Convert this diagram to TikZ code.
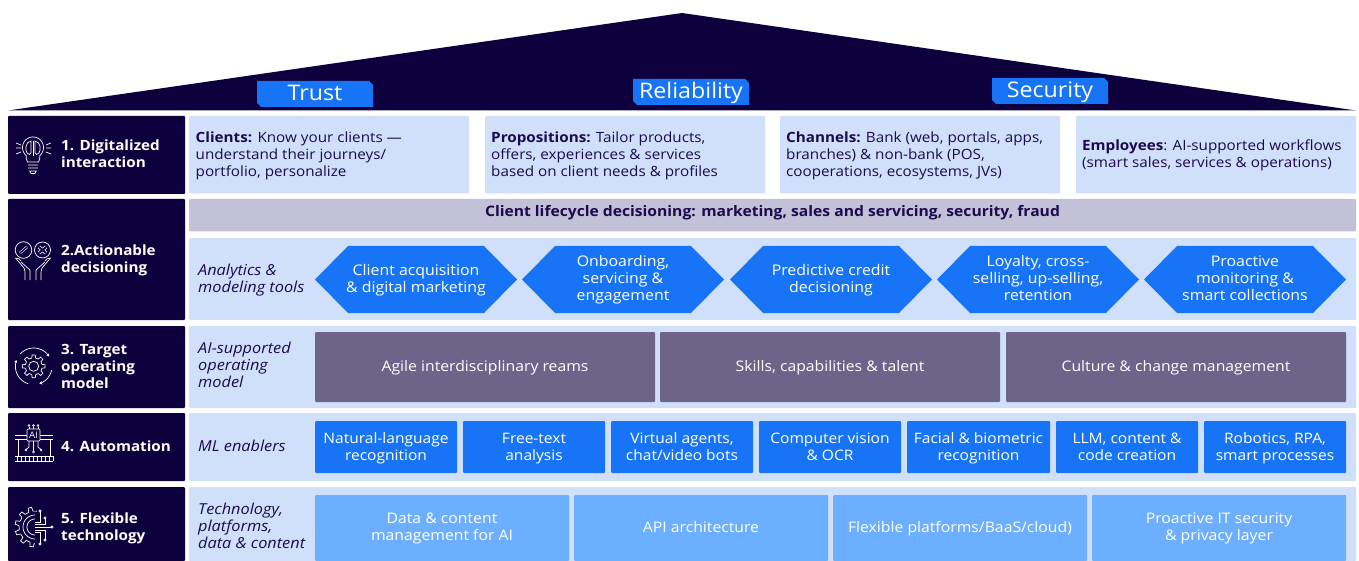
\documentclass[tikz,border=0pt]{standalone}
\usepackage{fontspec}
\setmainfont[FakeStretch=1.08]{Open Sans}
\usetikzlibrary{calc,arrows.meta}
\definecolor{navy}{HTML}{0E003D}
\definecolor{pale}{HTML}{D0E0FA}
\definecolor{greyb}{HTML}{C2C1D7}
\definecolor{purp}{HTML}{6E6389}
\definecolor{blu}{HTML}{1874F6}
\definecolor{lblu}{HTML}{6CAEFF}
\definecolor{ink}{HTML}{1B0A4F}
\newcommand{\tl}{\rule{0pt}{15pt}}
\newcommand{\tll}{\rule{0pt}{13.5pt}}
\tikzset{
 x=1pt,y=-1pt,
 lines/.style={execute at begin node={\rule{0pt}{14.9pt}},execute at end node={\rule[-5.1pt]{0pt}{5.1pt}}},
 box/.style={rectangle,inner sep=0pt,outer sep=0pt,rounded corners=1pt,align=center,lines,font=\fontsize{14.6}{17}\selectfont},
 head/.style={box,fill=navy},
 headtxt/.style={inner sep=0pt,anchor=west,align=left,lines,text=white,font=\fontsize{14.1}{17}\selectfont\bfseries},
 band/.style={box,fill=pale},
 bandtxt/.style={inner sep=0pt,anchor=west,align=left,lines,text=ink,font=\fontsize{14.1}{17}\selectfont},
 tool/.style={bandtxt,font=\fontsize{15.1}{17}\selectfont\itshape},
 agile/.style={box,fill=purp,text=white},
 enabler/.style={box,fill=blu,text=white,font=\fontsize{14.4}{17}\selectfont},
 tech/.style={box,fill=lblu,text=white},
 hextxt/.style={inner sep=0pt,align=center,lines,text=white,font=\fontsize{14.7}{17}\selectfont},
 tabtxt/.style={inner sep=0pt,text=white,text height=15pt,text depth=5pt,font=\fontsize{21.5}{24}\selectfont},
 greytxt/.style={inner sep=0pt,text=ink,font=\fontsize{14.5}{17}\selectfont\bfseries},
 ico/.style={draw=white,line width=.7pt,fill=none},
}
\newcommand{\cb}[7]{\node[#6,minimum width=#4pt-#2pt,minimum height=#5pt-#3pt] (#1) at ({(#2+#4)/2},{(#3+#5)/2}) {#7};}
\newcommand{\hexb}[3]{%
 \fill[blu] (#2,279.5) -- (#2+33,246) -- (#2+169,246) -- (#2+202,279.5) -- (#2+169,313) -- (#2+33,313) -- cycle;
 \node[hextxt] (#1) at (#2+101,279) {\tl #3};}
\newcommand{\tabb}[4]{%
 \fill[blu] (#2,#3) -- (#2+112,#3) -- (#2+116,#3+4) -- (#2+116,#3+26) -- (#2+4,#3+26) -- (#2,#3+22) -- cycle;
 \node[tabtxt] (#1) at (#2+58,#3+14.8) {#4};}
\begin{document}
\begin{tikzpicture}
\useasboundingbox (0,0) rectangle (1359,561);
\fill[navy] (8,110.5) -- (682,13) -- (1356,110.5) -- cycle;
\tabb{trust}{257}{81}{Trust}
\tabb{reliab}{633}{79}{Reliability}
\tabb{secur}{992}{78}{Security}
\cb{h1}{8}{116}{185}{194}{head}{}
\cb{h2}{8}{199}{185}{320}{head}{}
\cb{h3}{8}{326}{185}{408}{head}{}
\cb{h4}{8}{413}{185}{481}{head}{}
\cb{h5}{8}{487}{185}{561}{head}{}
\node[headtxt] (t1) at (61,154) {\tl 1. Digitalized\\interaction};
\node[headtxt] (t2) at (61,259) {\tl 2.Actionable\\decisioning};
\node[headtxt] (t3) at (61,367) {\tl 3. Target\\operating\\model};
\node[headtxt] (t4) at (61,446.5) {4. Automation};
\node[headtxt] (t5) at (61,527) {\tl 5. Flexible\\technology};
\cb{c1}{189}{116}{469}{193.5}{band}{}
\cb{c2}{485}{116}{765}{193.5}{band}{}
\cb{c3}{780}{116}{1060}{193.5}{band}{}
\cb{c4}{1076}{116}{1356}{193.5}{band}{}
\node[bandtxt] (ct1) at (195.5,155) {\tl\textbf{Clients:} Know your clients —\\understand their journeys/\\portfolio, personalize};
\node[bandtxt] (ct2) at (491,155) {\tl\textbf{Propositions:} Tailor products,\\offers, experiences \& services\\based on client needs \& profiles};
\node[bandtxt] (ct3) at (786,155) {\tl\textbf{Channels:} Bank (web, portals, apps,\\branches) \& non-bank (POS,\\cooperations, ecosystems, JVs)};
\node[bandtxt] (ct4) at (1082,154) {\tl\textbf{Employees}: AI-supported workflows\\(smart sales, services \& operations)};
\cb{grey}{189}{199}{1356}{231.5}{box,fill=greyb}{}
\node[greytxt] (gt) at (772.5,213) {Client lifecycle decisioning: marketing, sales and servicing, security, fraud};
\cb{r2}{189}{238}{1356}{320}{band}{}
\node[tool] (l2) at (198,279) {\tl Analytics \&\\modeling tools};
\hexb{x1}{315}{Client acquisition\\\& digital marketing}
\hexb{x2}{522}{Onboarding,\\servicing \&\\engagement}
\hexb{x3}{730}{Predictive credit\\decisioning}
\hexb{x4}{937}{Loyalty, cross-\\selling, up-selling,\\retention}
\hexb{x5}{1144}{Proactive\\monitoring \&\\smart collections}
\cb{r3}{189}{326}{1356}{408}{band}{}
\node[tool] (l3) at (198,366) {\tl AI-supported\\operating\\model};
\cb{a1}{315}{332}{655}{402}{agile}{Agile interdisciplinary reams}
\cb{a2}{660}{332}{1000}{402}{agile}{Skills, capabilities \& talent}
\cb{a3}{1006}{332}{1346}{402}{agile}{Culture \& change management}
\cb{r4}{189}{413}{1356}{481}{band}{}
\node[tool] (l4) at (198,446.5) {ML enablers};
\cb{e1}{315}{421}{457}{473}{enabler}{\tl Natural-language\\recognition}
\cb{e2}{463}{421}{605}{473}{enabler}{\tl Free-text\\analysis}
\cb{e3}{611}{421}{753}{473}{enabler}{\tl Virtual agents,\\chat/video bots}
\cb{e4}{759}{421}{901}{473}{enabler}{\tl Computer vision\\\& OCR}
\cb{e5}{907}{421}{1050}{473}{enabler}{\tl Facial \& biometric\\recognition}
\cb{e6}{1056}{421}{1198}{473}{enabler}{\tl LLM, content \&\\code creation}
\cb{e7}{1204}{421}{1346}{473}{enabler}{\tl Robotics, RPA,\\smart processes}
\cb{r5}{189}{487}{1356}{561}{band}{}
\node[tool] (l5) at (198,527) {\tl Technology,\\platforms,\\data \& content};
\cb{d1}{315}{495}{569}{561}{tech}{\tll Data \& content\\management for AI}
\cb{d2}{574}{495}{828}{561}{tech}{API architecture}
\cb{d3}{833}{495}{1087}{561}{tech}{Flexible platforms/BaaS/cloud)}
\cb{d4}{1092}{495}{1346}{561}{tech}{\tll Proactive IT security\\\& privacy layer}
% icon 1: bulb
\begin{scope}[ico]
\draw plot[domain=130:410,samples=40] ({33+10.5*cos(\x)},{147.5+10.5*sin(\x)}) .. controls (41,158) and (39,159) .. (38.5,162) -- (27.5,162) .. controls (27,159) and (25,158) .. (26.2,155.5);
\draw (28,165) -- (38,165) (28,168) -- (38,168) (29,171) -- (37,171) (30,171) -- (31,173.5) -- (35,173.5) -- (36,171);
\draw (33,141) -- (33,156);
\draw (31,141) .. controls (25,142) and (25,150) .. (27,153) .. controls (28,155) and (31,155) .. (31,153) -- cycle;
\draw (35,141) .. controls (41,142) and (41,150) .. (39,153) .. controls (38,155) and (35,155) .. (35,153) -- cycle;
\draw (16,143) -- (21,145) (16,148) -- (21,148) (16,154) -- (21,152) (51,143) -- (46,145) (51,148) -- (46,148) (51,154) -- (46,152);
\end{scope}
% icon 2: two circles over hands
\begin{scope}[ico]
\draw (23.5,250) circle[radius=8.3] (42.5,250) circle[radius=8];
\draw[line width=2.6pt] (20,253) -- (27,247);
\draw[line width=1.4pt,navy] (20,253) -- (27,247);
\draw[line width=3.4pt] (39,247) -- (46,253) (46,247) -- (39,253);
\draw[line width=2pt,navy] (39,247) -- (46,253) (46,247) -- (39,253);
\draw (15.5,258) -- (24,268) .. controls (25,270) and (25,272) .. (25,274) -- (25,280);
\draw (15.5,258) .. controls (18,258) and (20,259) .. (21,261) (21,262) -- (30,270) -- (30,280);
\draw (50.5,258) -- (42,268) .. controls (41,270) and (41,272) .. (41,274) -- (41,280);
\draw (50.5,258) .. controls (48,258) and (46,259) .. (45,261) (45,262) -- (36,270) -- (36,280);
\end{scope}
% icon 3: gear and arrows
\begin{scope}[ico,shift={(33.7,366.3)}]
\draw (0,0) circle[radius=5];
\foreach \a in {0,45,...,315} \draw (\a-13:8.5) -- (\a-8:11.5) -- (\a+8:11.5) -- (\a+13:8.5) -- (\a+32:8.5);
\draw[-{Stealth[length=3pt,width=3.5pt]}] plot[domain=222:328,samples=25] ({18.3*cos(\x)},{18.3*sin(\x)});
\draw[-{Stealth[length=3pt,width=3.5pt]}] plot[domain=12:72,samples=20] ({18.3*cos(\x)},{18.3*sin(\x)});
\draw[-{Stealth[length=3pt,width=3.5pt]}] plot[domain=107:200,samples=25] ({18.3*cos(\x)},{18.3*sin(\x)});
\end{scope}
% icon 4: chip on board
\begin{scope}[ico]
\draw[rounded corners=1pt] (27,429) rectangle (40,441);
\node[inner sep=0pt,draw=none,text=white,font=\fontsize{9}{9}\selectfont] (ai) at (33.5,435) {AI};
\draw (15,435) -- (27,435) (15,439) -- (27,439) (40,435) -- (53,435) (40,439) -- (53,439);
\foreach \q in {29,33.5,38} {\draw (\q,426.5) -- (\q,429); \draw (\q,425.5) circle[radius=1];}
\draw (18,439) -- (18,456) (50,439) -- (50,456);
\draw (15,456) -- (53,456) (15,461) -- (53,461);
\foreach \q in {17,21,...,53} \draw (\q,456) -- (\q,461);
\draw (29,441) -- (29,447) -- (26,449.5) (33.5,441) -- (33.5,451) (38,441) -- (38,447) -- (41,449.5);
\draw (26,450) circle[radius=1] (33.5,452) circle[radius=1] (41,450) circle[radius=1];
\end{scope}
% icon 5: half gear and circuit
\begin{scope}[ico,shift={(35,527)}]
\draw (90:12) \foreach \a in {100,110,...,270} {-- (\a:12)};
\draw (90:8) \foreach \a in {100,110,...,270} {-- (\a:8)};
\foreach \a in {100,131,162,193,224,255} \draw (\a-8:16) -- (\a-5:20) -- (\a+5:20) -- (\a+8:16) -- (\a+23:16);
\draw (0,-5) -- (5,-5) -- (5,-15) (0,-3) -- (10,-3) -- (10,-8) (0,0) -- (16,0) (0,3) -- (10,3) -- (10,12) (0,5) -- (5,5) -- (5,16);
\draw (5,-16) circle[radius=1.2] (10,-9) circle[radius=1.2] (17,0) circle[radius=1.2] (10,13) circle[radius=1.2] (5,17) circle[radius=1.2];
\end{scope}
\end{tikzpicture}
\end{document}
